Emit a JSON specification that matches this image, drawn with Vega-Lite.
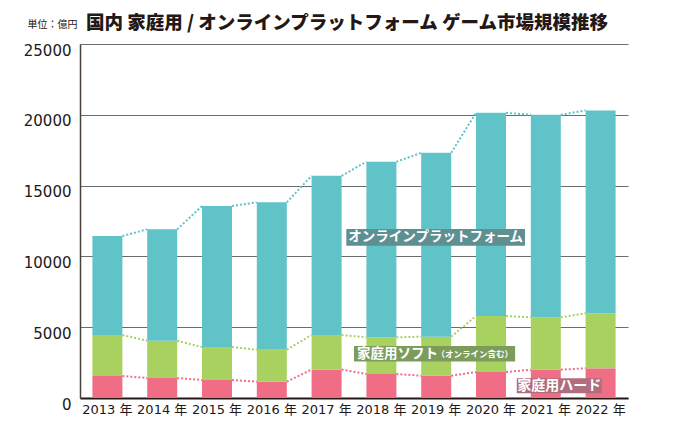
{
  "$schema": "https://vega.github.io/schema/vega-lite/v6.json",
  "autosize": "none",
  "width": 548,
  "height": 354,
  "padding": {"left": 80, "top": 44, "right": 52, "bottom": 34},
  "background": "white",
  "config": {
    "view": {"stroke": null},
    "font": "Noto Sans CJK JP"
  },
  "title": {
    "text": "国内 家庭用 / オンラインプラットフォーム ゲーム市場規模推移",
    "anchor": "start",
    "frame": "group",
    "dx": 6,
    "offset": -28,
    "baseline": "alphabetic",
    "font": "Noto Sans CJK JP",
    "fontSize": 18.5,
    "fontWeight": 900,
    "color": "#231815"
  },
  "datasets": {
    "market": [
      {"year": "2013", "cat": "ハード", "rank": 1, "value": 1553},
      {"year": "2013", "cat": "ソフト", "rank": 2, "value": 2895},
      {"year": "2013", "cat": "オンライン", "rank": 3, "value": 6989},
      {"year": "2014", "cat": "ハード", "rank": 1, "value": 1412},
      {"year": "2014", "cat": "ソフト", "rank": 2, "value": 2633},
      {"year": "2014", "cat": "オンライン", "rank": 3, "value": 7865},
      {"year": "2015", "cat": "ハード", "rank": 1, "value": 1271},
      {"year": "2015", "cat": "ソフト", "rank": 2, "value": 2329},
      {"year": "2015", "cat": "オンライン", "rank": 3, "value": 9955},
      {"year": "2016", "cat": "ハード", "rank": 1, "value": 1151},
      {"year": "2016", "cat": "ソフト", "rank": 2, "value": 2259},
      {"year": "2016", "cat": "オンライン", "rank": 3, "value": 10406},
      {"year": "2017", "cat": "ハード", "rank": 1, "value": 2012},
      {"year": "2017", "cat": "ソフト", "rank": 2, "value": 2436},
      {"year": "2017", "cat": "オンライン", "rank": 3, "value": 11246},
      {"year": "2018", "cat": "ハード", "rank": 1, "value": 1694},
      {"year": "2018", "cat": "ソフト", "rank": 2, "value": 2591},
      {"year": "2018", "cat": "オンライン", "rank": 3, "value": 12397},
      {"year": "2019", "cat": "ハード", "rank": 1, "value": 1574},
      {"year": "2019", "cat": "ソフト", "rank": 2, "value": 2754},
      {"year": "2019", "cat": "オンライン", "rank": 3, "value": 12989},
      {"year": "2020", "cat": "ハード", "rank": 1, "value": 1835},
      {"year": "2020", "cat": "ソフト", "rank": 2, "value": 3954},
      {"year": "2020", "cat": "オンライン", "rank": 3, "value": 14352},
      {"year": "2021", "cat": "ハード", "rank": 1, "value": 1998},
      {"year": "2021", "cat": "ソフト", "rank": 2, "value": 3699},
      {"year": "2021", "cat": "オンライン", "rank": 3, "value": 14303},
      {"year": "2022", "cat": "ハード", "rank": 1, "value": 2097},
      {"year": "2022", "cat": "ソフト", "rank": 2, "value": 3883},
      {"year": "2022", "cat": "オンライン", "rank": 3, "value": 14331}
    ]
  },
  "resolve": {"scale": {"x": "independent"}},
  "layer": [
    {
      "data": {"name": "market"},
      "layer": [
        {
          "mark": {"type": "bar"},
          "encoding": {
            "x": {
              "field": "year", "type": "ordinal", "sort": "ascending", "title": null,
              "scale": {"paddingInner": 0.4526, "paddingOuter": 0.2263},
              "axis": {
                "title": null,
                "labelExpr": "datum.label + ' 年'",
                "labelFont": "DejaVu Sans, Noto Sans CJK JP",
                "labelFontSize": 13,
                "labelColor": "#231815",
                "labelPadding": 5,
                "labelAngle": 0,
                "ticks": false,
                "domainColor": "#231815",
                "domainWidth": 2,
                "grid": false
              }
            },
            "y": {
              "field": "value", "type": "quantitative", "stack": "zero", "title": "単位：億円",
              "scale": {"domain": [0, 25000], "nice": false},
              "axis": {
                "title": "単位：億円",
                "titleAngle": 0,
                "titleX": -53,
                "titleY": -17,
                "titleAlign": "left",
                "titleBaseline": "alphabetic",
                "titleFont": "Noto Sans CJK JP",
                "titleFontSize": 10,
                "titleFontWeight": "normal",
                "titleColor": "#231815",
                "values": [0, 5000, 10000, 15000, 20000, 25000],
                "format": "d",
                "labelFont": "DejaVu Sans",
                "labelFontSize": 15,
                "labelColor": "#231815",
                "labelPadding": 9,
                "labelOffset": 6,
                "ticks": false,
                "grid": true,
                "gridColor": "#6b6b6b",
                "gridWidth": 1.2,
                "domainColor": "#4a403a",
                "domainWidth": 1.5
              }
            },
            "color": {
              "field": "cat", "type": "nominal",
              "scale": {"domain": ["ハード", "ソフト", "オンライン"], "range": ["#ef6e86", "#a9d160", "#5fc3c7"]},
              "legend": null
            },
            "order": {"field": "rank", "type": "quantitative", "sort": "ascending"}
          }
        },
        {
          "transform": [
            {"stack": "value", "groupby": ["year"], "sort": [{"field": "rank", "order": "ascending"}], "as": ["y0", "y1"]},
            {"window": [{"op": "lead", "field": "y1", "as": "ny"}, {"op": "lead", "field": "year", "as": "nyear"}], "groupby": ["cat"], "sort": [{"field": "year", "order": "ascending"}]},
            {"filter": "datum.nyear != null"}
          ],
          "mark": {"type": "rule", "strokeWidth": 2, "strokeDash": [2, 2]},
          "encoding": {
            "x": {"field": "year", "type": "ordinal", "bandPosition": 1, "title": null},
            "x2": {"field": "nyear", "bandPosition": 0},
            "y": {"field": "y1", "type": "quantitative", "title": "単位：億円"},
            "y2": {"field": "ny"},
            "color": {"field": "cat", "type": "nominal", "legend": null}
          }
        }
      ]
    },
    {
      "layer": [
        {
          "data": {"values": [{}]},
          "mark": {"type": "rect", "color": "#5e8f91"},
          "encoding": {
            "x": {"datum": 4.86, "type": "quantitative", "scale": {"domain": [0, 10]}, "axis": null},
            "x2": {"datum": 8.12},
            "y": {"datum": 11930, "type": "quantitative", "title": "単位：億円"},
            "y2": {"datum": 10750}
          }
        },
        {
          "data": {"values": [{}]},
          "mark": {"type": "text", "text": "オンラインプラットフォーム", "font": "Noto Sans CJK JP", "fontSize": 13.5, "fontWeight": "bold", "color": "white", "align": "center", "baseline": "middle"},
          "encoding": {
            "x": {"datum": 6.49, "type": "quantitative", "axis": null},
            "y": {"datum": 11340, "type": "quantitative", "title": "単位：億円"}
          }
        },
        {
          "data": {"values": [{}]},
          "mark": {"type": "rect", "color": "#7d9c5c"},
          "encoding": {
            "x": {"datum": 5.0, "type": "quantitative", "axis": null},
            "x2": {"datum": 7.94},
            "y": {"datum": 3670, "type": "quantitative", "title": "単位：億円"},
            "y2": {"datum": 2580}
          }
        },
        {
          "data": {"values": [{}]},
          "mark": {"type": "text", "text": "家庭用ソフト", "font": "Noto Sans CJK JP", "fontSize": 13.5, "fontWeight": "bold", "color": "white", "align": "left", "baseline": "middle", "dx": 3},
          "encoding": {
            "x": {"datum": 5.0, "type": "quantitative", "axis": null},
            "y": {"datum": 3125, "type": "quantitative", "title": "単位：億円"}
          }
        },
        {
          "data": {"values": [{}]},
          "mark": {"type": "text", "text": "（オンライン含む）", "font": "Noto Sans CJK JP", "fontSize": 8.5, "fontWeight": "bold", "color": "white", "align": "right", "baseline": "middle", "dx": -2},
          "encoding": {
            "x": {"datum": 7.94, "type": "quantitative", "axis": null},
            "y": {"datum": 3125, "type": "quantitative", "title": "単位：億円"}
          }
        },
        {
          "data": {"values": [{}]},
          "mark": {"type": "rect", "color": "#b06d7d"},
          "encoding": {
            "x": {"datum": 7.97, "type": "quantitative", "axis": null},
            "x2": {"datum": 9.52},
            "y": {"datum": 1390, "type": "quantitative", "title": "単位：億円"},
            "y2": {"datum": 330}
          }
        },
        {
          "data": {"values": [{}]},
          "mark": {"type": "text", "text": "家庭用ハード", "font": "Noto Sans CJK JP", "fontSize": 14, "fontWeight": "bold", "color": "white", "align": "center", "baseline": "middle"},
          "encoding": {
            "x": {"datum": 8.745, "type": "quantitative", "axis": null},
            "y": {"datum": 860, "type": "quantitative", "title": "単位：億円"}
          }
        }
      ]
    }
  ]
}
